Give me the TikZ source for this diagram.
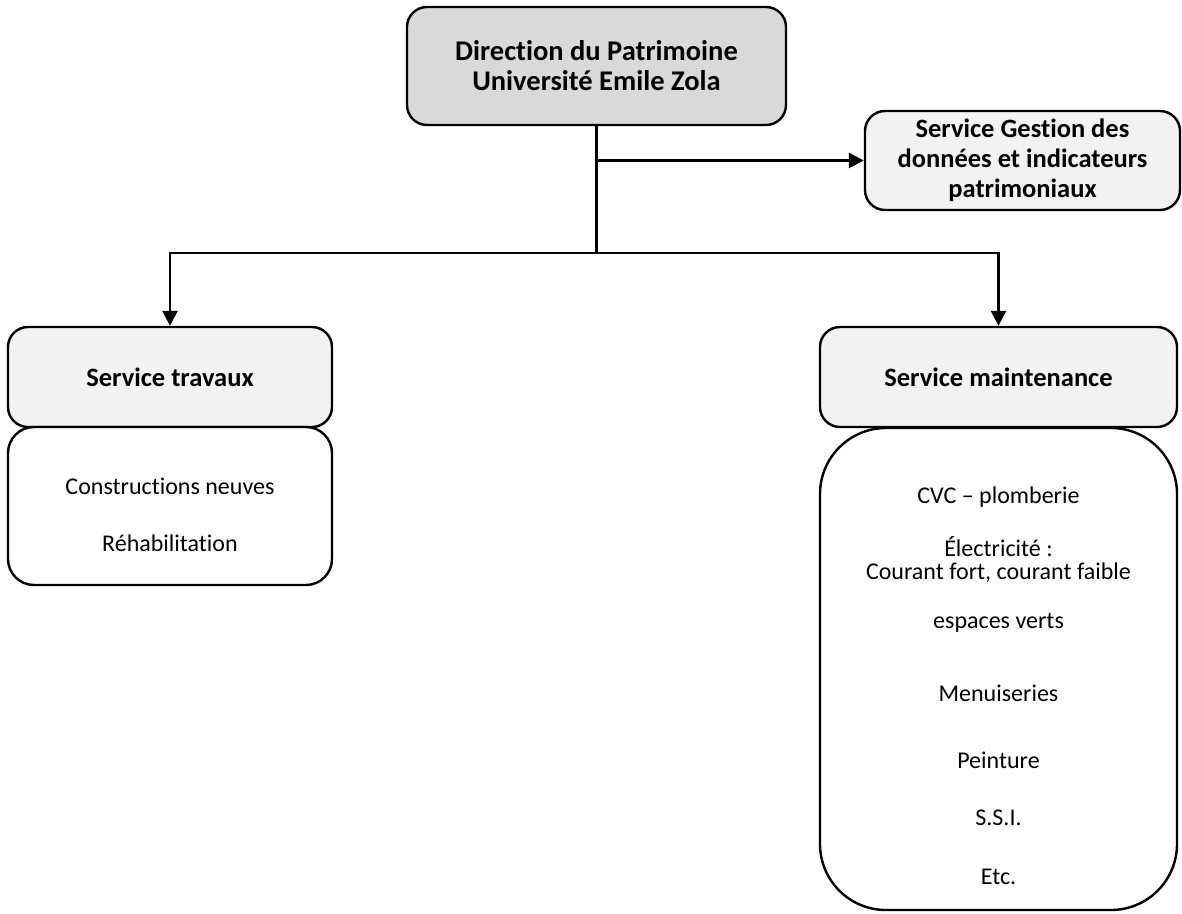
\documentclass[tikz,border=0pt]{standalone}
\usepackage{fontspec}
\setmainfont{Carlito}[RawFeature={-liga;-clig;-dlig;-calt}]
\usetikzlibrary{arrows.meta}
\definecolor{topgray}{HTML}{D9D9D9}
\definecolor{lightgray2}{HTML}{F2F2F2}
\tikzset{
  box/.style={draw=black, line width=2.4pt, rectangle, rounded corners=20pt, inner sep=0pt, align=center},
  conn/.style={line width=2.6pt},
  arr/.style={line width=2.6pt, -{Triangle[length=15pt,width=15pt]}},
  titlefont/.style={font=\bfseries\fontsize{28.5}{30}\selectfont},
  headfont/.style={font=\bfseries\fontsize{26.5}{30}\selectfont},
  itemfont/.style={font=\fontsize{24}{26}\selectfont},
}
\begin{document}
\begin{tikzpicture}[x=1pt,y=-1pt]
\useasboundingbox (0,0) rectangle (1182,913);
% top box
\node[box, fill=topgray, minimum width=379pt, minimum height=118pt, titlefont] (dir) at (596.5,66) {Direction du Patrimoine\\ Université Emile Zola};
% right box
\node[box, fill=lightgray2, minimum width=315pt, minimum height=99pt, headfont] (gest) at (1022.5,160.5) {Service Gestion des\\ données et indicateurs\\ patrimoniaux};
% service travaux
\node[box, fill=lightgray2, minimum width=324pt, minimum height=100pt, headfont] (trav) at (170,377) {Service travaux};
\node[box, fill=white, rounded corners=26pt, minimum width=324pt, minimum height=158pt] (travl) at (170,506) {};
\node[itemfont] (t1) at (170,486) {Constructions neuves};
\node[itemfont] (t2) at (170,543) {Réhabilitation};
% service maintenance
\node[box, fill=lightgray2, minimum width=357pt, minimum height=100pt, headfont] (maint) at (998.5,377) {Service maintenance};
\node[box, fill=white, rounded corners=66pt, minimum width=357pt, minimum height=482pt] (maintl) at (998.5,669) {};
\node[itemfont] (m1) at (998.5,497) {CVC – plomberie};
\node[itemfont] (m2) at (998.5,547) {Électricité :};
\node[itemfont] (m3) at (998.5,573) {Courant fort, courant faible};
\node[itemfont] (m4) at (998.5,623) {espaces verts};
\node[itemfont] (m5) at (998.5,693) {Menuiseries};
\node[itemfont] (m6) at (998.5,760) {Peinture};
\node[itemfont] (m7) at (998.5,818) {S.S.I.};
\node[itemfont] (m8) at (998.5,877) {Etc.};
% connectors
\coordinate (j1) at (dir.south |- gest.west);
\coordinate (bus) at (596.5,253);
\draw[conn] (dir.south) -- (bus);
\draw[arr] (j1) -- (gest.west);
\draw[arr] (bus) -| (trav.north);
\draw[arr] (bus) -| (maint.north);
\end{tikzpicture}
\end{document}
